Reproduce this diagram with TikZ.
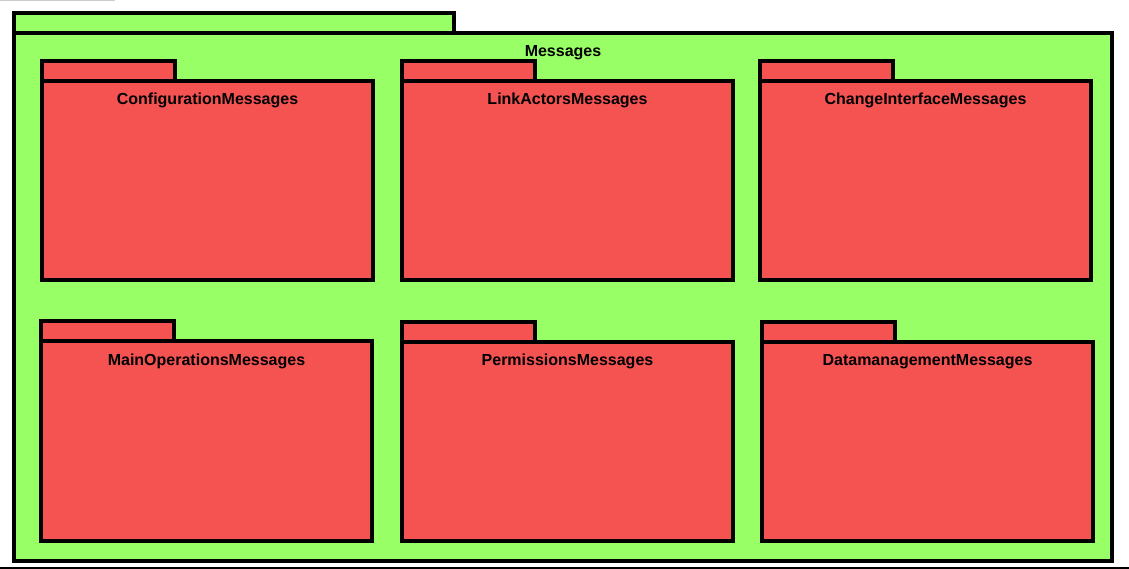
\documentclass[tikz,border=0pt]{standalone}
\usepackage{fontspec}
\setmainfont{Liberation Sans}
\usetikzlibrary{positioning}
\definecolor{pkggreen}{RGB}{153,255,102}
\definecolor{pkgred}{RGB}{245,82,82}

\begin{document}
\begin{tikzpicture}[x=1pt,y=-1pt,line width=3.2pt]
\tikzstyle{every node}=[draw,inner sep=0pt,outer sep=0pt,anchor=north west];
\tikzstyle{outer}=[fill=pkggreen];
\tikzstyle{inner}=[fill=pkgred,minimum width=331pt,minimum height=199pt];
\tikzstyle{tab}=[minimum width=133pt,minimum height=20pt];
\tikzstyle{title}=[draw=none,anchor=base,font=\bfseries\fontsize{16}{19}\selectfont];
\useasboundingbox (0,0) rectangle (1129,569);
\draw[black!20,line width=1pt] (0,0.5) -- (115,0.5);
\draw[line width=1.5pt] (0,568) -- (1129,568);
% outer package
\node[outer,minimum width=1098pt,minimum height=528pt] (msg) at (14,33) {};
\node[outer,tab,minimum width=440pt,above right=0pt and 0pt of msg.north west] (msgtab) {};
\node[title] (msgtitle) at ([yshift=-23.5pt]msg.north) {Messages};
% first row
\node[inner] (conf) at (42,81) {};
\node[inner,tab,above right=0pt and 0pt of conf.north west] (conftab) {};
\node[title] (conftitle) at ([yshift=-24pt]conf.north) {ConfigurationMessages};
\node[inner] (link) at (402,81) {};
\node[inner,tab,above right=0pt and 0pt of link.north west] (linktab) {};
\node[title] (linktitle) at ([yshift=-24pt]link.north) {LinkActorsMessages};
\node[inner] (change) at (760,81) {};
\node[inner,tab,above right=0pt and 0pt of change.north west] (changetab) {};
\node[title] (changetitle) at ([yshift=-24pt]change.north) {ChangeInterfaceMessages};
% second row
\node[inner,minimum height=200pt] (main) at (41,341) {};
\node[inner,tab,above right=0pt and 0pt of main.north west] (maintab) {};
\node[title] (maintitle) at ([yshift=-24.5pt]main.north) {MainOperationsMessages};
\node[inner] (perm) at (402,342) {};
\node[inner,tab,above right=0pt and 0pt of perm.north west] (permtab) {};
\node[title] (permtitle) at ([yshift=-23.5pt]perm.north) {PermissionsMessages};
\node[inner] (data) at (762,342) {};
\node[inner,tab,above right=0pt and 0pt of data.north west] (datatab) {};
\node[title] (datatitle) at ([yshift=-23.5pt]data.north) {DatamanagementMessages};
\end{tikzpicture}
\end{document}
